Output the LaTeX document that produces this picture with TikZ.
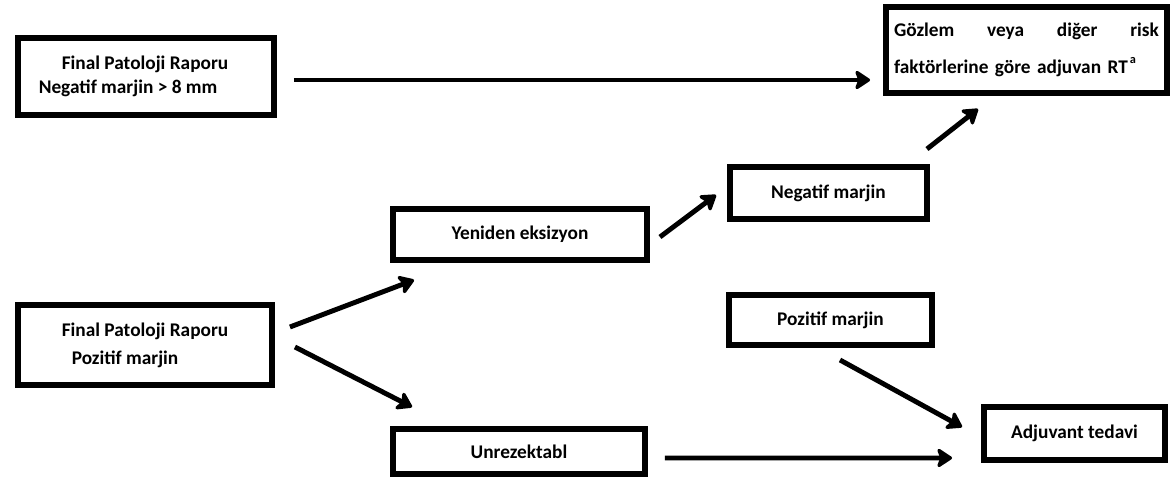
\documentclass[tikz,border=0pt]{standalone}
\usepackage{fontspec}
\setmainfont{Carlito}
\usetikzlibrary{calc,arrows.meta}

\begin{document}
\begin{tikzpicture}[x=0.02cm, y=-0.02cm,
		kutu/.style={draw, rectangle, line width=3.4pt, inner sep=0pt, font=\fontsize{11}{14}\selectfont\bfseries},
		ok/.style={line width=2.8pt, -{Stealth[length=10pt, width=13pt, inset=2.5pt, round]}}]
			%%%%% START %%%%%
			\useasboundingbox (0, 0) rectangle (1171, 479);
			
			\node[kutu, minimum width=5.12cm, minimum height=1.54cm, align=left] (rapneg) at (146, 76.5) {\hspace*{0.46cm}Final Patoloji Raporu\hspace*{0.5cm}\\Negatif marjin > 8 mm};
			\node[kutu, minimum width=5.62cm, minimum height=1.72cm, text width=5.3cm, align=left] (gozlem) at (1026.5, 50) {\makebox[5.3cm][s]{Gözlem\hfill veya\hfill diğer\hfill risk}\\[7pt]faktörlerine göre adjuvan RT\raisebox{1.1ex}{\fontsize{7}{7}\selectfont\,a}};
			
			\node[kutu, minimum width=3.94cm, minimum height=1.04cm] (negmar) at (828.5, 193) {Negatif marjin};
			\node[kutu, minimum width=5.08cm, minimum height=1.02cm] (yeniden) at (520, 234.5) {Yeniden eksizyon};
			
			\node[kutu, minimum width=5.08cm, minimum height=1.6cm, align=left] (rappoz) at (145, 345) {Final Patoloji Raporu\\[2pt]\hspace*{0.2cm}Pozitif marjin};
			\node[kutu, minimum width=4.06cm, minimum height=1.0cm] (pozmar) at (830.5, 320) {Pozitif marjin};
			
			\node[kutu, minimum width=3.62cm, minimum height=1.06cm] (adjuvan) at (1074.5, 433.5) {Adjuvant tedavi};
			\node[kutu, minimum width=5.04cm, minimum height=0.9cm] (unrez) at (519, 451.5) {Unrezektabl};
			
			\draw[ok] ($(rapneg.east)+(17, 3.5)$) -- ($(rapneg.east -| gozlem.west)+(-13, 3.5)$);
			\draw[ok] ($(rappoz.east)+(15, -18)$) -- ($(yeniden.south west)+(24, 17)$);
			\draw[ok] ($(rappoz.east)+(20, 2)$) -- ($(unrez.north west)+(22, -19)$);
			\draw[ok] ($(yeniden.east)+(10, 2.5)$) -- ($(negmar.west)+(-11, 2)$);
			\draw[ok] ($(negmar.north east)+(-3, -15)$) -- ($(gozlem.south west)+(95, 13)$);
			\draw[ok] ($(pozmar.south)+(9.5, 12)$) -- ($(adjuvan.west)+(-19, -6.5)$);
			\draw[ok] ($(unrez.east)+(17, 6.5)$) -- ($(adjuvan.south west)+(-29, -5)$);
			%%%%% END %%%%%
\end{tikzpicture}
\end{document}
